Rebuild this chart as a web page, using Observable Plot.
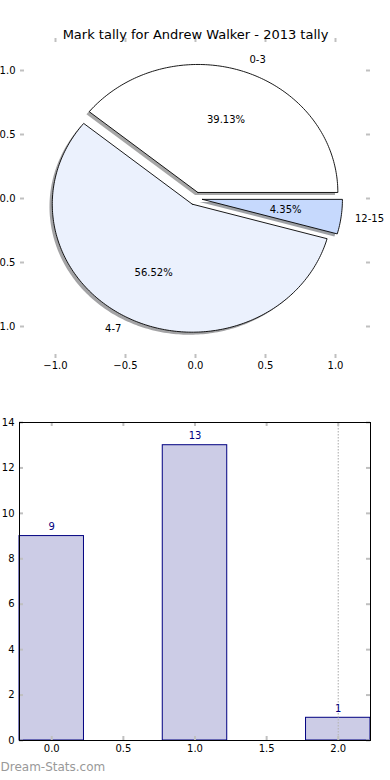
<!DOCTYPE html>
<html>
<head>
<meta charset="utf-8">
<script src="https://cdn.jsdelivr.net/npm/d3@7"></script>
<script src="https://cdn.jsdelivr.net/npm/@observablehq/plot@0.6"></script>
<style>
  html, body { margin: 0; padding: 0; background: white; }
  #chart svg { display: block; }
</style>
</head>
<body>
<div id="chart"></div>
<script>
// ---- data ----
const chartTitle = "Mark tally for Andrew Walker - 2013 tally";
const sliceLabels = ["0-3", "4-7", "12-15"];
const sliceCounts = [9, 13, 1];
const sliceColors = ["#ffffff", "#ebf1fd", "#c6d9fd"];
const pieTicks = [-1.0, -0.5, 0.0, 0.5, 1.0];

const barPositions = [0, 1, 2];
const barValues = [9, 13, 1];
const barYTicks = [0, 2, 4, 6, 8, 10, 12, 14];
const barXTicks = [0.0, 0.5, 1.0, 1.5, 2.0];
const highlightX = [2.0];
const footerText = "Dream-Stats.com";

// ---- style params ----
const explode = 0.05;
const shadowOffset = 0.02;
const barWidth = 0.45;
const tickColor = "#c0c0c0";
const font = "DejaVu Sans, sans-serif";

// ---- pie geometry from data ----
const total = d3.sum(sliceCounts);
let cum = 0;
const slices = sliceCounts.map((c, i) => {
  const a0 = cum / total * 2 * Math.PI;
  cum += c;
  const a1 = cum / total * 2 * Math.PI;
  const mid = (a0 + a1) / 2;
  const cx = explode * Math.cos(mid), cy = explode * Math.sin(mid);
  const pts = [{x: cx, y: cy}];
  const n = Math.max(4, Math.ceil((a1 - a0) / (Math.PI / 180)));
  for (let k = 0; k <= n; k++) {
    const a = a0 + (a1 - a0) * k / n;
    pts.push({x: cx + Math.cos(a), y: cy + Math.sin(a)});
  }
  pts.push({x: cx, y: cy});
  return {
    label: sliceLabels[i], color: sliceColors[i], pts,
    lx: cx + 1.1 * Math.cos(mid), ly: cy + 1.1 * Math.sin(mid),
    px: cx + 0.6 * Math.cos(mid), py: cy + 0.6 * Math.sin(mid),
    pct: (c / total * 100).toFixed(2) + "%"
  };
});

function shade(hex) {
  const c = d3.rgb(hex);
  return d3.rgb(c.r * 0.3, c.g * 0.3, c.b * 0.3).formatHex();
}

const pieW = 390, pieH = 390;
const pieM = {top: 38, bottom: 32, left: 20, right: 20};
const pieFW = pieW - pieM.left - pieM.right, pieFH = pieH - pieM.top - pieM.bottom;
const tickLen = 4;

const pieMarks = [];
slices.forEach(s => {
  pieMarks.push(Plot.line(s.pts, {
    x: d => d.x - shadowOffset, y: d => d.y - shadowOffset,
    fill: shade(s.color), fillOpacity: 0.5, stroke: "none"
  }));
});
slices.forEach(s => {
  pieMarks.push(Plot.line(s.pts, {
    x: "x", y: "y", fill: s.color, stroke: "black", strokeWidth: 0.9
  }));
});
pieMarks.push(
  Plot.text(slices.filter(s => s.lx > 0), {x: "lx", y: "ly", text: "label", textAnchor: "start", fontSize: 10, fill: "black"}),
  Plot.text(slices.filter(s => s.lx <= 0), {x: "lx", y: "ly", text: "label", textAnchor: "end", fontSize: 10, fill: "black"}),
  Plot.text(slices, {x: "px", y: "py", text: "pct", textAnchor: "middle", fontSize: 10, fill: "black"}),
  Plot.tickX(pieTicks, {x: d => d, insetBottom: pieFH - tickLen, stroke: tickColor, strokeWidth: 2}),
  Plot.tickX(pieTicks, {x: d => d, insetTop: pieFH - tickLen, stroke: tickColor, strokeWidth: 2}),
  Plot.tickY(pieTicks, {y: d => d, insetRight: pieFW - tickLen, stroke: tickColor, strokeWidth: 2}),
  Plot.tickY(pieTicks, {y: d => d, insetLeft: pieFW - tickLen, stroke: tickColor, strokeWidth: 2}),
  Plot.text([chartTitle], {frameAnchor: "top", dy: -9, fontSize: 13, fill: "black"})
);

const piePlot = Plot.plot({
  width: pieW, height: pieH,
  marginTop: pieM.top, marginBottom: pieM.bottom, marginLeft: pieM.left, marginRight: pieM.right,
  style: {fontFamily: font, fontSize: "10px", background: "white", color: "black"},
  x: {domain: [-1.25, 1.25], ticks: pieTicks, tickSize: 0, tickPadding: 3, tickFormat: d3.format(".1f"), label: null},
  y: {domain: [-1.25, 1.25], ticks: pieTicks, tickSize: 0, tickPadding: 5, tickFormat: d3.format(".1f"), label: null},
  marks: pieMarks
});

// ---- bar chart ----
const bars = barPositions.map((p, i) => ({x: p, value: barValues[i]}));
const barW = 390, barH = 390;
const barM = {top: 32, bottom: 40, left: 19, right: 20};
const barFW = barW - barM.left - barM.right, barFH = barH - barM.top - barM.bottom;

const barPlot = Plot.plot({
  width: barW, height: barH,
  marginTop: barM.top, marginBottom: barM.bottom, marginLeft: barM.left, marginRight: barM.right,
  style: {fontFamily: font, fontSize: "10px", background: "white", color: "black"},
  x: {domain: [-barWidth / 2, 2 + barWidth / 2], ticks: barXTicks, tickSize: 0, tickPadding: 4, tickFormat: d3.format(".1f"), label: null},
  y: {domain: [0, 14], ticks: barYTicks, tickSize: 0, tickPadding: 5, tickFormat: d3.format("d"), label: null},
  marks: [
    Plot.rect(bars, {x1: d => d.x - barWidth / 2, x2: d => d.x + barWidth / 2, y1: 0, y2: "value", fill: "#ccccE6", stroke: "#000080", strokeWidth: 1}),
    Plot.ruleX(highlightX, {x: d => d, stroke: "#b8b8b8", strokeWidth: 1.2, strokeDasharray: "1.5,1.5"}),
    Plot.text(bars, {x: "x", y: "value", text: d => String(d.value), dy: -9, fill: "#000080", fontSize: 10}),
    Plot.tickX(barXTicks, {x: d => d, insetBottom: barFH - tickLen, stroke: tickColor, strokeWidth: 2}),
    Plot.tickX(barXTicks, {x: d => d, insetTop: barFH - tickLen, stroke: tickColor, strokeWidth: 2}),
    Plot.tickY(barYTicks, {y: d => d, insetRight: barFW - tickLen, stroke: tickColor, strokeWidth: 2}),
    Plot.tickY(barYTicks, {y: d => d, insetLeft: barFW - tickLen, stroke: tickColor, strokeWidth: 2}),
    Plot.frame({stroke: "black", strokeWidth: 1}),
    Plot.text([footerText], {frameAnchor: "bottom-left", textAnchor: "start", dx: -barM.left, dy: 30, fill: "#999999", fontSize: 12})
  ]
});

const chart = document.getElementById("chart");
chart.appendChild(piePlot);
chart.appendChild(barPlot);
</script>
</body>
</html>
